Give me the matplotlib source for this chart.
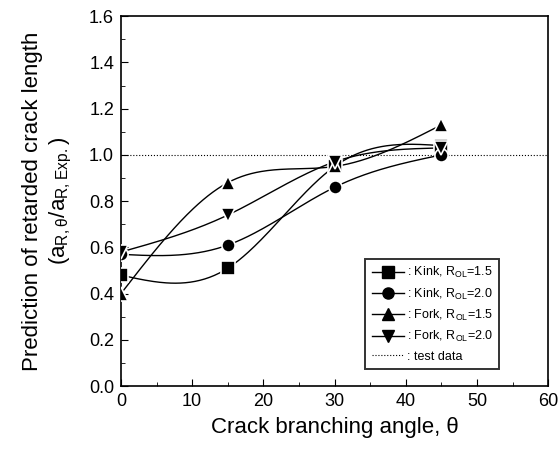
import matplotlib.pyplot as plt
import numpy as np

plt.rcParams["font.family"] = ["Liberation Sans", "DejaVu Sans"]

angle = [0, 15, 30, 45]
kink_15 = [0.48, 0.51, 0.95, 1.04]
kink_20 = [0.57, 0.61, 0.86, 1.00]
fork_15 = [0.40, 0.88, 0.95, 1.13]
fork_20 = [0.58, 0.74, 0.97, 1.03]
test_x = [0, 60]
test_y = [1.0, 1.0]

labels = [': Kink, R$_{\\mathregular{OL}}$=1.5',
          ': Kink, R$_{\\mathregular{OL}}$=2.0',
          ': Fork, R$_{\\mathregular{OL}}$=1.5',
          ': Fork, R$_{\\mathregular{OL}}$=2.0']
markers = ['s', 'o', '^', 'v']


def spline(x, y, n=200):
    # natural cubic spline, only used to draw the smooth connecting line
    x = np.asarray(x, float)
    y = np.asarray(y, float)
    k = len(x)
    h = np.diff(x)
    A = np.zeros((k, k))
    b = np.zeros(k)
    A[0, 0] = A[-1, -1] = 1
    for i in range(1, k - 1):
        A[i, i - 1] = h[i - 1]
        A[i, i] = 2 * (h[i - 1] + h[i])
        A[i, i + 1] = h[i]
        b[i] = 6 * ((y[i + 1] - y[i]) / h[i] - (y[i] - y[i - 1]) / h[i - 1])
    M = np.linalg.solve(A, b)
    xs = np.linspace(x[0], x[-1], n)
    ys = np.empty_like(xs)
    for j, t in enumerate(xs):
        i = min(np.searchsorted(x, t, side='right') - 1, k - 2)
        a = x[i + 1] - t
        c = t - x[i]
        ys[j] = (M[i] * a**3 + M[i + 1] * c**3) / (6 * h[i]) \
            + (y[i] / h[i] - M[i] * h[i] / 6) * a \
            + (y[i + 1] / h[i] - M[i + 1] * h[i] / 6) * c
    return xs, ys


fig = plt.figure(figsize=(5.6, 4.49), dpi=100)
ax = fig.add_axes([0.216, 0.140, 0.763, 0.824])

for ys, m, lab in zip([kink_15, kink_20, fork_15, fork_20], markers, labels):
    sx, sy = spline(angle, ys)
    ax.plot(sx, sy, color='black', lw=1.0, zorder=2)
    ax.plot(angle, ys, linestyle='none', marker=m, markersize=9.5,
            color='black', markeredgecolor='white', markeredgewidth=1.2, zorder=3)
    ax.plot([], [], color='black', lw=1.0, marker=m, markersize=8, label=lab)

ax.plot(test_x, test_y, color='black', lw=0.8, linestyle=':', label=': test data', zorder=1)

ax.set_xlim(0, 60)
ax.set_ylim(0, 1.6)
ax.set_xticks(np.arange(0, 61, 10))
ax.set_xticks(np.arange(0, 61, 5), minor=True)
ax.set_yticks(np.arange(0, 1.61, 0.2))
ax.set_yticks(np.arange(0, 1.61, 0.1), minor=True)
ax.yaxis.set_major_formatter(plt.FormatStrFormatter('%.1f'))
ax.tick_params(which='both', direction='in', labelsize=13, top=False, right=False)
ax.tick_params(which='major', length=5, pad=5)
ax.tick_params(which='minor', length=3)
for s in ax.spines.values():
    s.set_linewidth(1.2)

ax.set_xlabel('Crack branching angle, θ', fontsize=16, labelpad=5)
ax.set_ylabel('Prediction of retarded crack length\n'
              '(a$_{\\mathregular{R,θ}}$/a$_{\\mathregular{R,Exp.}}$)',
              fontsize=16, linespacing=1.25, labelpad=11)

leg = ax.legend(loc='lower right', bbox_to_anchor=(0.9, 0.03), fontsize=9,
                frameon=True, fancybox=False, edgecolor='black',
                handlelength=2.6, handletextpad=0.2, borderpad=0.5,
                labelspacing=0.5)
leg.get_frame().set_linewidth(1.4)

plt.savefig('out.png', dpi=100)
